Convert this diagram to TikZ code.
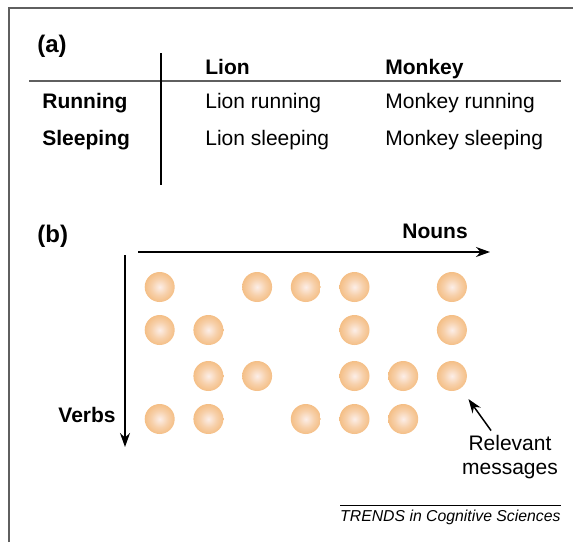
\documentclass[tikz,border=0pt]{standalone}
\usepackage{fontspec}
\setmainfont{Liberation Sans}
\usetikzlibrary{arrows.meta,positioning}
\definecolor{ballout}{RGB}{242,178,108}
\definecolor{ballin}{RGB}{252,238,232}
\definecolor{framegray}{RGB}{95,95,95}
\pgfdeclareradialshading{glow}{\pgfpoint{0bp}{0bp}}{color(0bp)=(ballin); color(14bp)=(ballin!50!ballout); color(33bp)=(ballout); color(50bp)=(ballout)}
\tikzstyle{tag}   = [font=\fontsize{12}{14}\selectfont\bfseries, anchor=base west, inner sep=0pt]
\tikzstyle{hd}    = [font=\fontsize{10.5}{12}\selectfont\bfseries, anchor=base west, inner sep=0pt]
\tikzstyle{txt}   = [font=\fontsize{10.5}{12}\selectfont, anchor=base west, inner sep=0pt]
\tikzstyle{ball}  = [circle, minimum size=15pt, inner sep=0pt, shading=glow]
\tikzstyle{axis}  = [line width=0.75pt, -{Stealth[length=7pt,width=5pt]}]
\tikzstyle{rule}  = [line width=0.9pt]

\begin{document}
\begin{tikzpicture}[x=0.5pt,y=-0.5pt]
        \useasboundingbox (0,0) rectangle (574,542);
        \draw[rule, framegray] (9,542) -- (9,8) -- (573,8);

        \node[tag] (taga) at (37,52) {(a)};
        \node[hd] (lion) at (205,74) {Lion};
        \node[hd] (monkey) at (385,74) {Monkey};
        \node[hd] (run) at (42,108) {Running};
        \node[hd] (sleep) at (42,145) {Sleeping};
        \node[txt] (lionrun) at (205,108) {Lion running};
        \node[txt] (monkeyrun) at (385,108) {Monkey running};
        \node[txt] (lionsleep) at (205,145) {Lion sleeping};
        \node[txt] (monkeysleep) at (385,145) {Monkey sleeping};
        \draw[rule, framegray] (29,81) -- (561,81);
        \draw[line width=0.75pt] (161,53) -- (161,185);

        \node[tag] (tagb) at (37,242) {(b)};
        \node[hd] (nouns) at (402,238) {Nouns};
        \node[hd] (verbs) at (58,422) {Verbs};
        \coordinate (n0) at (138,252);
        \coordinate (n1) at (490,252);
        \coordinate (v0) at (125,255);
        \coordinate (v1) at (125,447);
        \draw[axis] (n0) -- (n1);
        \draw[axis] (v0) -- (v1);

        \foreach \r/\y/\cols in {1/287/{1,3,4,5,7}, 2/330/{1,2,5,7}, 3/376/{2,3,5,6,7}, 4/419/{1,2,4,5,6}}
            \foreach \c in \cols
                \node[ball] (c-\r-\c) at ({111+48.7*\c},\y) {};

        \node[font=\fontsize{10.5}{12.2}\selectfont, align=center, inner sep=2pt] (rel) at (510,457) {Relevant\\messages};
        \draw[line width=0.75pt, -{Stealth[length=7pt,width=5pt]}, shorten >=6.5pt] (rel) -- (c-3-7);

        \draw[line width=0.5pt] (340,505) -- (561,505);
        \node[font=\fontsize{7.9}{9}\selectfont\itshape, anchor=base east, inner sep=0pt] (src) at (561,521) {TRENDS in Cognitive Sciences};
    \end{tikzpicture}
\end{document}
